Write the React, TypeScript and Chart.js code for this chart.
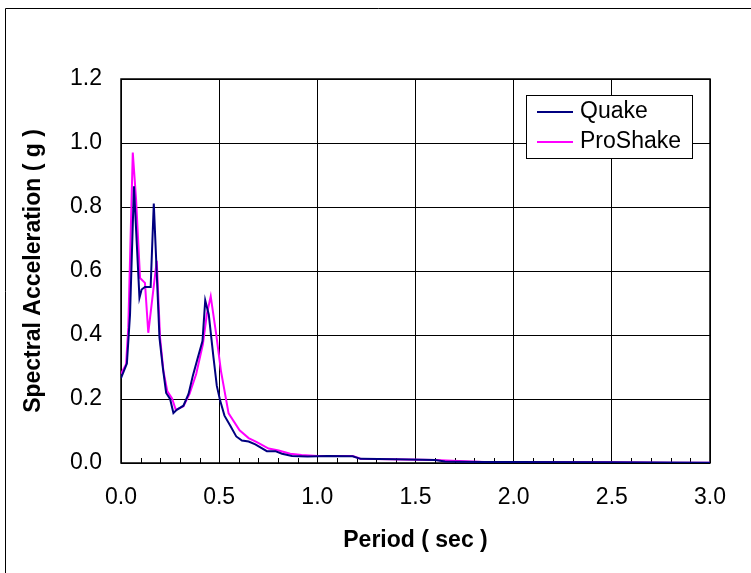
import { useEffect, useRef } from "react";
import { Chart, registerables } from "chart.js";

Chart.register(...registerables);

// ---- Data (period in sec, spectral acceleration in g) ----
const quakePeriod = [0.0, 0.03, 0.046, 0.066, 0.094, 0.105, 0.122, 0.151, 0.167, 0.196, 0.213, 0.23, 0.25, 0.267, 0.284, 0.318, 0.344, 0.366, 0.389, 0.415, 0.429, 0.447, 0.471, 0.488, 0.505, 0.527, 0.556, 0.587, 0.616, 0.65, 0.684, 0.743, 0.786, 0.82, 0.871, 0.95, 1.05, 1.18, 1.22, 1.4, 1.6, 1.65, 1.72, 1.85, 2.0, 2.5, 3.0];
const quakeSa = [0.265, 0.311, 0.464, 0.865, 0.516, 0.542, 0.55, 0.55, 0.811, 0.392, 0.298, 0.219, 0.2, 0.156, 0.166, 0.179, 0.216, 0.273, 0.324, 0.381, 0.508, 0.464, 0.33, 0.241, 0.195, 0.148, 0.117, 0.083, 0.07, 0.067, 0.058, 0.037, 0.037, 0.029, 0.022, 0.02, 0.022, 0.021, 0.013, 0.012, 0.0095, 0.005, 0.004, 0.003, 0.003, 0.002, 0.001];

const proPeriod = [0.0, 0.026, 0.037, 0.06, 0.077, 0.097, 0.122, 0.139, 0.182, 0.199, 0.216, 0.236, 0.26, 0.279, 0.318, 0.349, 0.383, 0.417, 0.437, 0.457, 0.485, 0.509, 0.548, 0.604, 0.65, 0.692, 0.752, 0.803, 0.862, 0.92, 1.0, 1.18, 1.22, 1.6, 1.72, 1.85, 2.0, 2.5, 2.8, 3.0];
const proSa = [0.278, 0.309, 0.423, 0.97, 0.822, 0.578, 0.563, 0.407, 0.632, 0.392, 0.288, 0.224, 0.202, 0.166, 0.177, 0.216, 0.278, 0.371, 0.464, 0.521, 0.402, 0.288, 0.155, 0.102, 0.078, 0.065, 0.045, 0.039, 0.029, 0.025, 0.022, 0.022, 0.0135, 0.0095, 0.006, 0.003, 0.003, 0.002, 0.001, 0.001];

const seriesNames = ["Quake", "ProShake"];
const seriesColors = ["#000080", "#FF00FF"];

const xMin = 0;
const xMax = 3.0;
const xStep = 0.5;
const xMinorTicks = [0.1, 0.2, 0.3, 0.4, 0.6, 0.7, 0.8, 0.9, 1.1, 1.2, 1.3, 1.4, 1.6, 1.7, 1.8, 1.9, 2.1, 2.2, 2.3, 2.4, 2.6, 2.7, 2.8, 2.9];
const yMin = 0;
const yMax = 1.2;
const yStep = 0.2;

const xTitle = "Period ( sec )";
const yTitle = "Spectral Acceleration ( g )";

const FONT = "'Liberation Sans', Arial, sans-serif";

function toPoints(xs: number[], ys: number[]) {
  return xs.map((x, i) => ({ x, y: ys[i] }));
}

const framePlugin = {
  id: "frame",
  beforeDraw(chart: any) {
    const ctx = chart.ctx;
    ctx.save();
    ctx.fillStyle = "#ffffff";
    ctx.fillRect(0, 0, chart.width, chart.height);
    ctx.strokeStyle = "#000000";
    ctx.lineWidth = 1;
    ctx.beginPath();
    ctx.moveTo(5.5, chart.height + 5);
    ctx.lineTo(5.5, 8.5);
    ctx.lineTo(chart.width + 5, 8.5);
    ctx.stroke();
    ctx.restore();
  },
  beforeDatasetsDraw(chart: any) {
    const ctx = chart.ctx;
    const { left, right, top, bottom } = chart.chartArea;
    const xs = chart.scales.x;
    ctx.save();
    ctx.strokeStyle = "#000000";
    ctx.lineWidth = 1;
    ctx.beginPath();
    xMinorTicks.forEach((v) => {
      const px = Math.round(xs.getPixelForValue(v)) + 0.5;
      ctx.moveTo(px, bottom);
      ctx.lineTo(px, bottom - 5);
    });
    ctx.stroke();
    ctx.lineWidth = 1.5;
    ctx.strokeRect(left, top, right - left, bottom - top);
    ctx.restore();
  },
};

const legendPlugin = {
  id: "boxLegend",
  afterDraw(chart: any) {
    const ctx = chart.ctx;
    const bx = 526.5, by = 95.5, bw = 166, bh = 63;
    ctx.save();
    ctx.fillStyle = "#ffffff";
    ctx.fillRect(bx, by, bw, bh);
    ctx.strokeStyle = "#000000";
    ctx.lineWidth = 1;
    ctx.strokeRect(bx, by, bw, bh);
    ctx.font = `23px ${FONT}`;
    ctx.textBaseline = "middle";
    ctx.textAlign = "left";
    chart.data.datasets.forEach((ds: any, i: number) => {
      const y = 112 + i * 30;
      ctx.strokeStyle = ds.borderColor;
      ctx.lineWidth = 2;
      ctx.beginPath();
      ctx.moveTo(537, y);
      ctx.lineTo(573, y);
      ctx.stroke();
      ctx.fillStyle = "#000000";
      ctx.fillText(ds.label, 580, y);
    });
    ctx.restore();
  },
};

export default function App() {
  const canvasRef = useRef<HTMLCanvasElement | null>(null);

  useEffect(() => {
    if (!canvasRef.current) return;
    const chart = new Chart(canvasRef.current, {
      type: "line",
      data: {
        datasets: [
          {
            label: seriesNames[0],
            data: toPoints(quakePeriod, quakeSa),
            borderColor: seriesColors[0],
            backgroundColor: seriesColors[0],
            borderWidth: 2,
            pointRadius: 0,
            tension: 0,
            fill: false,
          },
          {
            label: seriesNames[1],
            data: toPoints(proPeriod, proSa),
            borderColor: seriesColors[1],
            backgroundColor: seriesColors[1],
            borderWidth: 2,
            pointRadius: 0,
            tension: 0,
            fill: false,
          },
        ],
      },
      options: {
        animation: false,
        responsive: false,
        devicePixelRatio: 1,
        layout: { padding: { left: 0, top: 79, right: 41, bottom: 0 } },
        plugins: {
          legend: { display: false },
          tooltip: { enabled: false },
        },
        scales: {
          x: {
            type: "linear",
            min: xMin,
            max: xMax,
            ticks: {
              stepSize: xStep,
              callback: (v: any) => Number(v).toFixed(1),
              font: { family: FONT, size: 23 },
              color: "#000000",
              padding: 21,
              maxRotation: 0,
            },
            grid: { color: "#000000", lineWidth: 1, drawTicks: false },
            border: { display: false },
            title: {
              display: true,
              text: xTitle,
              color: "#000000",
              font: { family: FONT, size: 23, weight: "bold" },
              padding: { top: 0, bottom: 19 },
            },
            afterFit: (scale: any) => {
              scale.height = 110;
            },
          },
          y: {
            type: "linear",
            min: yMin,
            max: yMax,
            ticks: {
              stepSize: yStep,
              callback: (v: any) => Number(v).toFixed(1),
              font: { family: FONT, size: 23 },
              color: "#000000",
              padding: 19,
            },
            grid: { color: "#000000", lineWidth: 1, drawTicks: false },
            border: { display: false },
            title: {
              display: true,
              text: yTitle,
              color: "#000000",
              font: { family: FONT, size: 23, weight: "bold" },
              padding: { top: 20, bottom: 0 },
            },
            afterFit: (scale: any) => {
              scale.width = 121;
            },
          },
        },
      },
      plugins: [framePlugin, legendPlugin],
    });
    return () => chart.destroy();
  }, []);

  return (
    <div style={{ position: "fixed", left: 0, top: 0, width: 751, height: 573, background: "#fff" }}>
      <canvas ref={canvasRef} width={751} height={573} style={{ display: "block", width: 751, height: 573 }} />
    </div>
  );
}
